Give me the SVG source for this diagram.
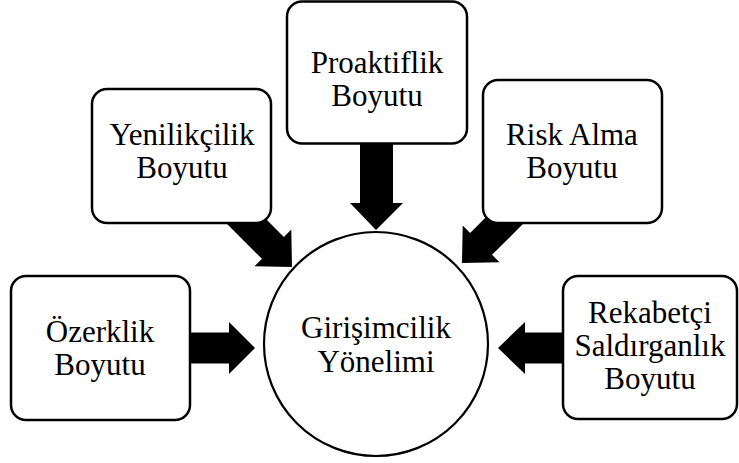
<svg xmlns="http://www.w3.org/2000/svg" width="739" height="463" viewBox="0 0 739 463">
<defs>
<polygon id="arrow" points="-90,-15.5 -27,-15.5 -27,-26 0,0 -27,26 -27,15.5 -90,15.5"/>
</defs>
<rect width="739" height="463" fill="#fff"/>
<g id="connectors" fill="#000">
<polygon points="190,332.5 229,332.5 229,322 255,348 229,374 229,363.5 190,363.5"/>
<polygon points="563,332.5 525,332.5 525,322 498,348 525,374 525,363.5 563,363.5"/>
<polygon points="360,140 393,140 393,203 403,203 376,230 350,203 360,203"/>
<use href="#arrow" transform="translate(292,267) rotate(45)"/>
<use href="#arrow" transform="translate(462,263) rotate(135)"/>
</g>
<g id="proaktiflik">
<rect x="287" y="1.5" width="180" height="142" rx="15" fill="#fff" stroke="#000" stroke-width="2.5"/>
<text font-family="Times New Roman" font-size="31" text-anchor="middle" x="377" y="73">Proaktiflik</text>
<text font-family="Times New Roman" font-size="31" text-anchor="middle" x="377" y="106">Boyutu</text>
</g>
<g id="yenilikcilik">
<rect x="92" y="89" width="179" height="134" rx="15" fill="#fff" stroke="#000" stroke-width="2.5"/>
<text font-family="Times New Roman" font-size="31" text-anchor="middle" x="182" y="145">Yenilikçilik</text>
<text font-family="Times New Roman" font-size="31" text-anchor="middle" x="182" y="178">Boyutu</text>
</g>
<g id="risk">
<rect x="483" y="80" width="179" height="143" rx="15" fill="#fff" stroke="#000" stroke-width="2.5"/>
<text font-family="Times New Roman" font-size="31" text-anchor="middle" x="572" y="145">Risk Alma</text>
<text font-family="Times New Roman" font-size="31" text-anchor="middle" x="572" y="178">Boyutu</text>
</g>
<g id="ozerklik">
<rect x="11" y="276" width="179" height="144" rx="15" fill="#fff" stroke="#000" stroke-width="2.5"/>
<text font-family="Times New Roman" font-size="31" text-anchor="middle" x="100" y="342">Özerklik</text>
<text font-family="Times New Roman" font-size="31" text-anchor="middle" x="100" y="375">Boyutu</text>
</g>
<g id="rekabetci">
<rect x="563" y="276" width="174" height="143" rx="15" fill="#fff" stroke="#000" stroke-width="2.5"/>
<text font-family="Times New Roman" font-size="31" text-anchor="middle" x="650" y="323">Rekabetçi</text>
<text font-family="Times New Roman" font-size="31" text-anchor="middle" x="650" y="356">Saldırganlık</text>
<text font-family="Times New Roman" font-size="31" text-anchor="middle" x="650" y="389">Boyutu</text>
</g>
<g id="girisimcilik">
<circle cx="376" cy="344" r="112" fill="#fff" stroke="#000" stroke-width="2.2"/>
<text font-family="Times New Roman" font-size="31" text-anchor="middle" x="376" y="338">Girişimcilik</text>
<text font-family="Times New Roman" font-size="31" text-anchor="middle" x="376" y="372">Yönelimi</text>
</g>
</svg>
